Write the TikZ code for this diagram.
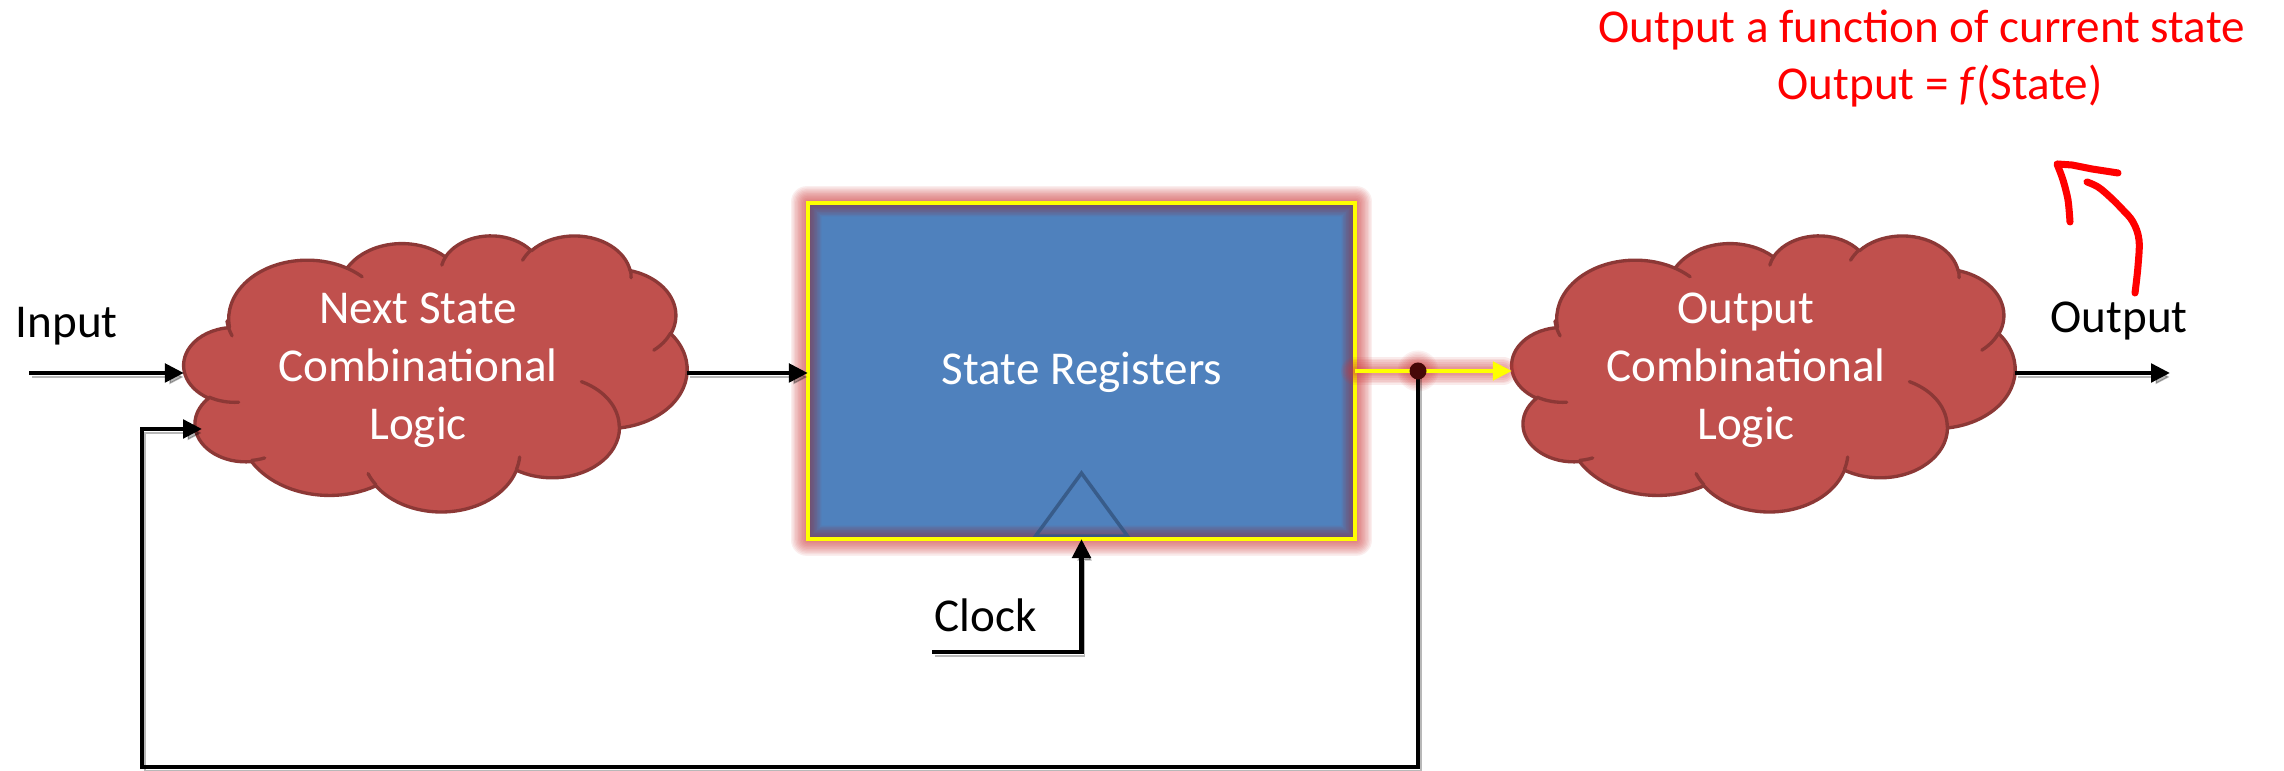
\documentclass[tikz,border=0pt]{standalone}
\usepackage{fontspec}
\setmainfont{Carlito}
\usetikzlibrary{arrows.meta}

\definecolor{cloudfill}{RGB}{192,80,77}
\definecolor{cloudline}{RGB}{140,56,54}
\definecolor{regfill}{RGB}{79,129,189}
\definecolor{regedge}{RGB}{255,255,0}
\definecolor{glowred}{RGB}{205,60,60}
\definecolor{innershade}{RGB}{150,40,50}
\definecolor{clockmark}{RGB}{52,86,130}
\definecolor{notered}{RGB}{255,0,0}
\definecolor{tapdot}{RGB}{70,8,8}

% Elliptical arc given by radii, start angle and sweep (visual angles, in degrees),
% continuing from the current point.
\newcommand\cldarc[4]{%
  \pgfmathsetmacro\cldta{atan2((#1)*sin(#3),(#2)*cos(#3))}%
  \pgfmathsetmacro\cldtb{atan2((#1)*sin((#3)+(#4)),(#2)*cos((#3)+(#4)))}%
  \pgfmathsetmacro\cldtb{ifthenelse(\cldtb<\cldta,\cldtb+360,\cldtb)}%
  \pgfpatharcaxes{\cldta}{\cldtb}{\pgfpointxy{#1}{0}}{\pgfpointxy{0}{#2}}%
}

% Cloud outline in a 100 x 100 frame, stretched to the box left, top, width, height.
\newcommand\drawcloud[4]{%
  \pgfmathsetlengthmacro\cldxu{(#3)*0.01cm/100}%
  \pgfmathsetlengthmacro\cldyu{(#4)*0.01cm/100}%
  \begin{scope}[shift={(#1,#2)}, x=\cldxu, y=-\cldyu]
    \pgfsetroundjoin
    \pgfsetroundcap
    \pgfsetlinewidth{0.95pt}%
    \pgfsetfillcolor{cloudfill}%
    \pgfsetstrokecolor{cloudline}%
    \pgfpathmoveto{\pgfpointxy{9.028}{33.264}}%
    \cldarc{15.632}{21.273}{-190.4875}{123.7805}%
    \cldarc{12.345}{16.822}{-144.1024}{89.9452}%
    \cldarc{10.104}{13.762}{-145.8079}{99.7230}%
    \cldarc{11.243}{15.266}{-130.9861}{117.2417}%
    \cldarc{12.345}{16.836}{-78.7089}{109.0269}%
    \cldarc{15.683}{21.343}{-46.2673}{130.2690}%
    \cldarc{13.391}{18.211}{0.6250}{114.0333}%
    \cldarc{15.630}{21.331}{22.4516}{115.1726}%
    \cldarc{17.870}{24.405}{66.2426}{75.7110}%
    \cldarc{10.093}{13.699}{-274.9421}{146.7356}%
    \cldarc{10.058}{13.762}{-246.8285}{152.5189}%
    \pgfpathclose
    \pgfusepath{fill,stroke}%
    % inner folds of the puffs
    \pgfpathmoveto{\pgfpointxy{10.863}{60.595}}\cldarc{10.058}{13.762}{86.742}{26.430}%
    \pgfpathmoveto{\pgfpointxy{16.037}{80.785}}\cldarc{10.093}{13.699}{73.611}{11.447}%
    \pgfpathmoveto{\pgfpointxy{38.144}{90.486}}\cldarc{15.630}{21.331}{137.624}{14.081}%
    \pgfpathmoveto{\pgfpointxy{66.729}{80.442}}\cldarc{15.632}{21.273}{6.453}{15.998}%
    \pgfpathmoveto{\pgfpointxy{79.002}{53.134}}\cldarc{13.391}{18.211}{-70.292}{70.917}%
    \pgfpathmoveto{\pgfpointxy{96.755}{35.542}}\cldarc{12.345}{16.836}{30.318}{27.752}%
    \pgfpathmoveto{\pgfpointxy{88.713}{12.560}}\cldarc{11.243}{15.266}{-13.744}{14.862}%
    \pgfpathmoveto{\pgfpointxy{67.310}{9.148}}\cldarc{11.243}{15.266}{-149.181}{18.196}%
    \pgfpathmoveto{\pgfpointxy{51.252}{10.926}}\cldarc{10.104}{13.762}{-163.494}{17.691}%
    \pgfpathmoveto{\pgfpointxy{32.407}{12.019}}\cldarc{15.632}{21.273}{-66.707}{12.319}%
    \pgfpathmoveto{\pgfpointxy{9.553}{36.549}}\cldarc{15.632}{21.273}{151.409}{19.426}%
    \pgfusepath{stroke}%
  \end{scope}%
}

\begin{document}
\begin{tikzpicture}[x=0.01cm, y=-0.01cm,
  font=\fontsize{13.4pt}{16.5pt}\selectfont,
  cloudarea/.style={rectangle, draw=none, inner sep=0pt, outer sep=0pt,
    minimum width=5.03cm, minimum height=2.76cm},
  cloudtext/.style={text=white, align=center, inner sep=0pt},
  plainlabel/.style={text=black, inner sep=0pt, anchor=base west},
  note/.style={text=notered, inner sep=0pt, anchor=base west},
  wire/.style={draw=black, line width=1.25pt,
    preaction={draw=black, opacity=0.28,
      transform canvas={shift={(0.03cm,-0.04cm)}}}},
  tip/.style={-{Triangle[length=5.4pt, width=5.2pt]}},
  scribble/.style={draw=notered, line width=2pt, line cap=round, line join=round}]

\useasboundingbox (0,0) rectangle (2284,771);

% ---------- layout anchors ----------
\node[cloudarea] (nsl) at (435.5,373) {};
\node[cloudarea] (ocl) at (1763.5,373) {};
\node[rectangle, fill=regfill, inner sep=0pt, outer sep=0pt,
      minimum width=5.47cm, minimum height=3.36cm] (reg) at (1081.5,371) {};
\coordinate (tap) at (1418,371);
\coordinate (fbCorner) at (142,767);
\coordinate (nsFb) at (202,429);
\coordinate (inStart) at (29,373);
\coordinate (clkStart) at (932,652);
\coordinate (outEnd) at (2170,373);
\coordinate (glowEnd) at (1503,371);

% ---------- state register block ----------
\foreach \g in {1,...,12}
  \fill[glowred, opacity=0.085, rounded corners={\g*0.013cm}]
    ([shift={(-\g*1.4,\g*1.4)}]reg.south west) rectangle ([shift={(\g*1.4,-\g*1.4)}]reg.north east);
\fill[regfill] (reg.south west) rectangle (reg.north east);
\begin{scope}
  \clip (reg.south west) rectangle (reg.north east);
  \foreach \g in {1,...,9}
    \fill[innershade, opacity=0.085, even odd rule]
      (reg.south west) rectangle (reg.north east)
      ([shift={(\g*1.5,-\g*1.5)}]reg.south west) rectangle ([shift={(-\g*1.5,\g*1.5)}]reg.north east);
\end{scope}
\draw[clockmark, opacity=0.85, line width=1pt, line join=miter]
  ([shift={(-46,-3)}]reg.south) -- ([shift={(0,-66)}]reg.south)
  -- ([shift={(46,-3)}]reg.south) -- cycle;
\draw[regedge, line width=1.1pt] (reg.south west) rectangle (reg.north east);
\node[text=white, inner sep=0pt, anchor=base] (regText) at (1082,385) {State Registers};

% ---------- combinational clouds ----------
\drawcloud{184}{235}{503}{276}
\drawcloud{1512}{235}{503}{276}
\node[cloudtext] (nslText) at (418,370) {Next State\\Combinational\\Logic};
\node[cloudtext] (oclText) at (1746,370) {Output\\Combinational\\Logic};

% ---------- glow along the state output ----------
\foreach \g in {1,...,8} {
  \draw[glowred, opacity=0.1, line width={\g*1pt}, line cap=round] (reg.east) -- (glowEnd);
  \fill[glowred, opacity=0.07] (tap) circle[radius={0.085cm+\g*0.015cm}];
}

% ---------- connectors ----------
\draw[wire, tip] (inStart) -- (nsl.west);
\draw[wire, tip] (nsl.east) -- (nsl.east -| reg.west);
\draw[wire, tip] (clkStart) -| (reg.south);
\draw[wire, tip] (tap) -- (tap |- fbCorner) -- (fbCorner) |- (nsFb);
\draw[wire, tip] (ocl.east) -- (outEnd);
\draw[regedge, line width=1.1pt, -{Triangle[length=5.4pt, width=5.2pt]}]
  (reg.east) -- (reg.east -| ocl.west);
\fill[tapdot] (tap) circle[radius=0.085cm];

% ---------- labels ----------
\node[plainlabel] (inLabel) at (15,338) {Input};
\node[plainlabel] (clkLabel) at (934,632) {Clock};
\node[plainlabel] (outLabel) at (2050,333) {Output};
\node[note] (noteA) at (1598,43) {Output a function of current state};
\node[note] (noteB) at (1777,100) {Output = \textit{f}(State)};

% ---------- hand-drawn pointer ----------
\draw[scribble] plot[smooth, tension=0.6] coordinates
  {(2135,293) (2138,266) (2139,240) (2133,222) (2122,209) (2110,197) (2098,187) (2087,182)};
\draw[scribble] plot[smooth, tension=0.5] coordinates
  {(2070,222) (2068,200) (2063,180) (2057,164)}
  -- (2072,165) -- (2092,169) -- (2118,173);
\end{tikzpicture}
\end{document}
